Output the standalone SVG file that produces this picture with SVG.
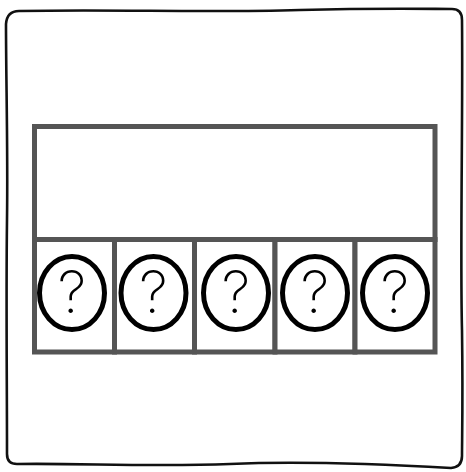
<svg xmlns="http://www.w3.org/2000/svg" width="466" height="472" viewBox="0 0 466 472">
<style>
.frame{fill:#fff;stroke:#111;stroke-width:2.6;stroke-linecap:round;stroke-linejoin:round}
.box{fill:#fff;stroke:#555;stroke-width:5}
.coin{fill:#fff;stroke:#000;stroke-width:5}
.q{font-family:Inter,Lato,"Open Sans","Liberation Sans",sans-serif;font-size:58px;font-weight:200;fill:#000;text-anchor:middle}
</style>
<rect width="466" height="472" fill="#fff"/>
<path class="frame" d="M19,11 C120,9 200,13 300,10 C380,8 430,9 452,9 Q462,9 462,20 C463,120 460,250 462,330 C463,400 462,440 462,456 Q462,467 451,468 C380,464 300,461 230,464 C150,467 80,463 17,464 Q7,464 7,454 C7,380 6,300 7,220 C8,150 6,80 6,24 Q7,11 19,11 Z"/>
<g id="top"><rect class="box" x="34.5" y="126.5" width="400.5" height="113"/></g>
<g id="cell1"><rect class="box" x="34.5" y="239.5" width="80" height="112.5"/><ellipse class="coin" cx="72" cy="293" rx="32.5" ry="36.5"/><text class="q" x="72" y="313">?</text></g>
<g id="cell2"><rect class="box" x="114.5" y="239.5" width="80" height="112.5"/><ellipse class="coin" cx="153.5" cy="293" rx="32.5" ry="36.5"/><text class="q" x="153.5" y="313">?</text></g>
<g id="cell3"><rect class="box" x="194.5" y="239.5" width="80.5" height="112.5"/><ellipse class="coin" cx="236" cy="293" rx="32.5" ry="36.5"/><text class="q" x="236" y="313">?</text></g>
<g id="cell4"><rect class="box" x="275" y="239.5" width="80" height="112.5"/><ellipse class="coin" cx="315" cy="293" rx="32.5" ry="36.5"/><text class="q" x="315" y="313">?</text></g>
<g id="cell5"><rect class="box" x="355" y="239.5" width="80" height="112.5"/><ellipse class="coin" cx="395" cy="293" rx="32.5" ry="36.5"/><text class="q" x="395" y="313">?</text></g>
</svg>
